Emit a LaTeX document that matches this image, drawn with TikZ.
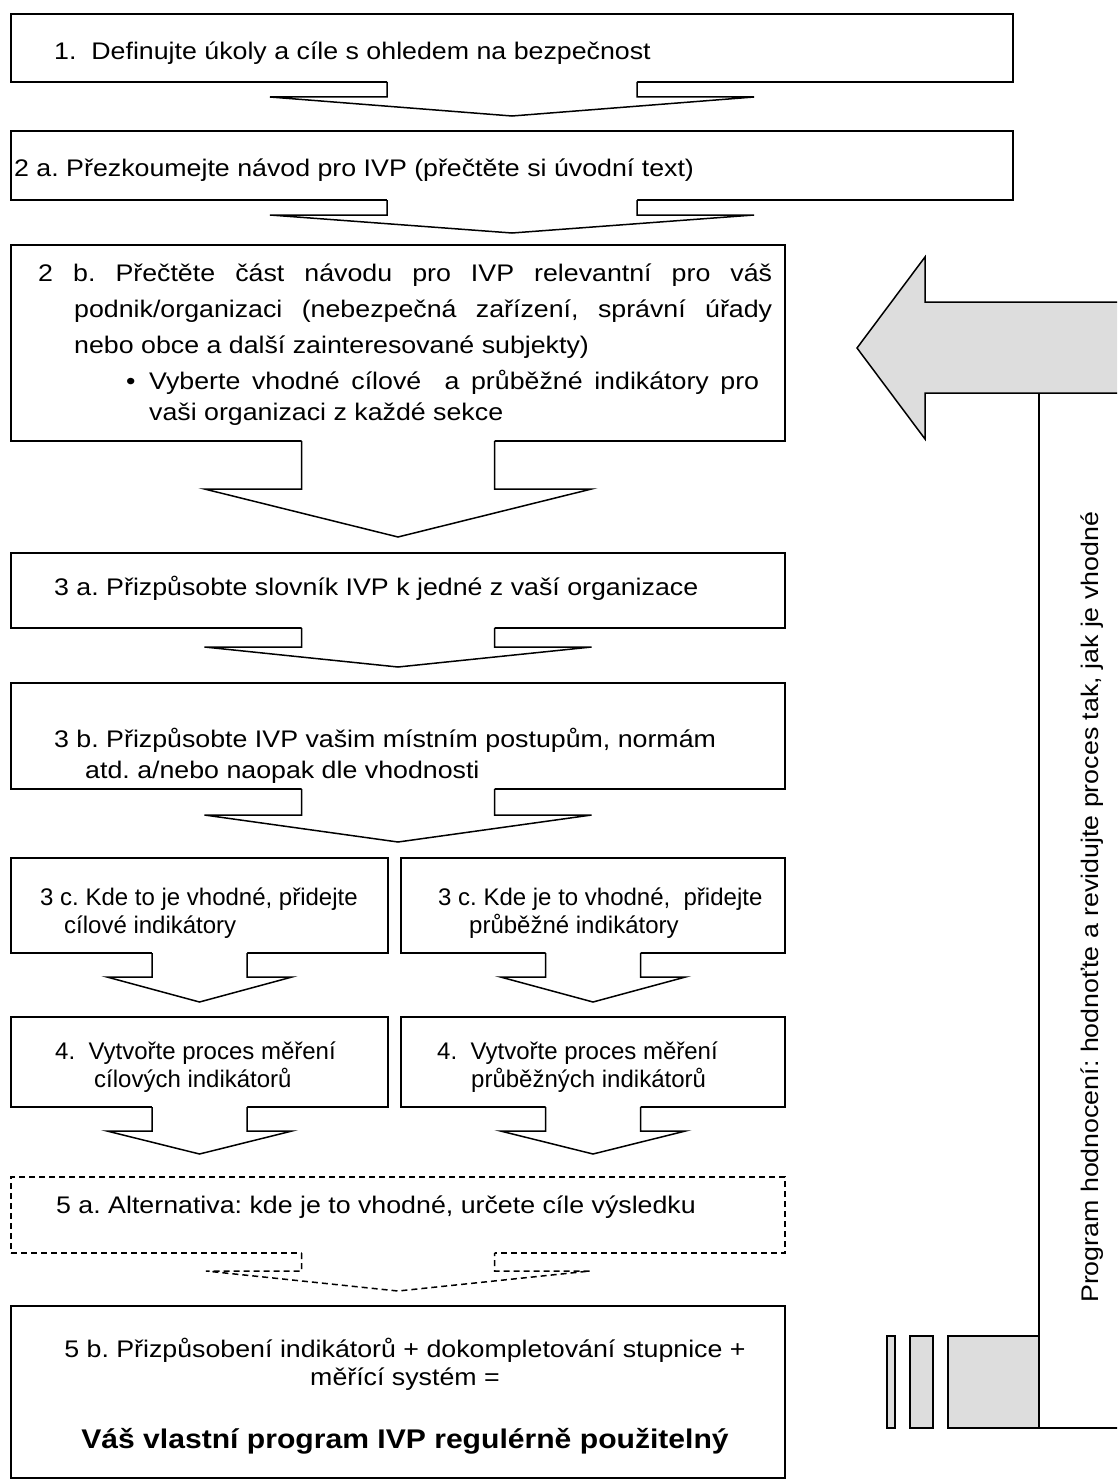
\documentclass[tikz,border=0pt]{standalone}
\usepackage{fontspec}
\setmainfont{Liberation Sans}[FakeStretch=1.115]
\newfontfamily\narrowfont{Liberation Sans}
\usetikzlibrary{positioning}
\definecolor{panelgray}{HTML}{DDDDDD}
\frenchspacing

\tikzset{
	box/.style={draw, line width=1.5pt, anchor=north west, inner sep=0pt, outer sep=0pt},
	txtline/.style={anchor=base west, inner sep=0pt, font=\fontsize{24}{28}\selectfont},
	narrowline/.style={txtline, font=\narrowfont\fontsize{24}{28}\selectfont},
	midline/.style={txtline, anchor=base},
}

% block arrow under a box: [style]{box}{shaft half}{wing half}{shaft}{head}
\newcommand{\flowarrow}[6][]{%
	\fill[white] ([xshift=-#3pt,yshift=2pt]#2.south) -- ++(0,#5+2) -- ++(#3-#4,0) -- ++(#4,#6) -- ++(#4,-#6) -- ++(#3-#4,0) -- ++(0,-#5-2) -- cycle;
	\draw[line width=1.5pt, #1] ([xshift=-#3pt]#2.south) -- ++(0,#5) -- ++(#3-#4,0) -- ++(#4,#6) -- ++(#4,-#6) -- ++(#3-#4,0) -- ++(0,-#5);
}

\begin{document}
\begin{tikzpicture}[x=1pt, y=-1pt]
	\useasboundingbox (0,0) rectangle (1117,1482);
	% boxes
	\node[box, minimum width=1002pt, minimum height=68pt] (b1) at (11,14) {};
	\node[box, minimum width=1002pt, minimum height=69pt] (b2a) at (11,131) {};
	\node[box, minimum width=774pt, minimum height=196pt] (b2b) at (11,245) {};
	\node[box, minimum width=774pt, minimum height=75pt] (b3a) at (11,553) {};
	\node[box, minimum width=774pt, minimum height=106pt] (b3b) at (11,683) {};
	\node[box, minimum width=377pt, minimum height=95pt] (b3cl) at (11,858) {};
	\node[box, minimum width=384pt, minimum height=95pt] (b3cr) at (401,858) {};
	\node[box, minimum width=377pt, minimum height=90pt] (b4l) at (11,1017) {};
	\node[box, minimum width=384pt, minimum height=90pt] (b4r) at (401,1017) {};
	\node[box, dashed, dash pattern=on 6pt off 4pt, minimum width=774pt, minimum height=76pt] (b5a) at (11,1177) {};
	\node[box, minimum width=774pt, minimum height=172pt] (b5b) at (11,1306) {};

	% arrows
	\flowarrow{b1}{125}{242}{15}{19}
	\flowarrow{b2a}{125}{242}{15}{18}
	\flowarrow{b2b}{96.5}{193.5}{48}{48}
	\flowarrow{b3a}{96.5}{193.5}{19}{20}
	\flowarrow{b3b}{96.5}{193.5}{26}{27}
	\flowarrow{b3cl}{47.5}{92.5}{24}{25}
	\flowarrow{b3cr}{47.5}{92.5}{24}{25}
	\flowarrow{b4l}{47.5}{92.5}{24}{23}
	\flowarrow{b4r}{47.5}{92.5}{24}{23}
	\flowarrow[dashed, dash pattern=on 6pt off 4pt]{b5a}{96.5}{192}{18}{20}

	% texts
	\node[txtline] (t1) at (54,60) {1.\ \ Definujte úkoly a cíle s ohledem na bezpečnost};
	\node[txtline] (t2a) at (14,177) {2 a. Přezkoumejte návod pro IVP (přečtěte si úvodní text)};
	\node[txtline] (t2b1) at (38,281) {\makebox[734pt][s]{2 b. Přečtěte část návodu pro IVP relevantní pro váš}};
	\node[txtline] (t2b2) at (74,317) {\makebox[698pt][s]{podnik/organizaci (nebezpečná zařízení, správní úřady}};
	\node[txtline] (t2b3) at (74,353) {nebo obce a další zainteresované subjekty)};
	\node[txtline] (dot) at (126,389) {•};
	\node[txtline] (t2b4) at (149,389) {\makebox[610pt][s]{Vyberte vhodné cílové\ \ a průběžné indikátory pro}};
	\node[txtline] (t2b5) at (149,420) {vaši organizaci z každé sekce};
	\node[txtline] (t3a) at (54,595) {3 a. Přizpůsobte slovník IVP k jedné z vaší organizace};
	\node[txtline] (t3b1) at (54,747) {3 b. Přizpůsobte IVP vašim místním postupům, normám};
	\node[txtline] (t3b2) at (85,778) {atd. a/nebo naopak dle vhodnosti};
	\node[narrowline] (t3cl1) at (40,905) {3 c. Kde to je vhodné, přidejte};
	\node[narrowline] (t3cl2) at (64,933) {cílové indikátory};
	\node[narrowline] (t3cr1) at (438,905) {3 c. Kde je to vhodné,\ \ přidejte};
	\node[narrowline] (t3cr2) at (469,933) {průběžné indikátory};
	\node[narrowline] (t4l1) at (55,1059) {4.\ \ Vytvořte proces měření};
	\node[narrowline] (t4l2) at (94,1087) {cílových indikátorů};
	\node[narrowline] (t4r1) at (437,1059) {4.\ \ Vytvořte proces měření};
	\node[narrowline] (t4r2) at (471,1087) {průběžných indikátorů};
	\node[txtline] (t5a) at (56,1213) {5 a. Alternativa: kde je to vhodné, určete cíle výsledku};
	\node[midline] (t5b1) at (405,1357) {5 b. Přizpůsobení indikátorů + dokompletování stupnice +};
	\node[midline] (t5b2) at (405,1385) {měřící systém =};
	\node[midline, font=\fontsize{27}{32}\selectfont\bfseries] (t5b3) at (405,1448) {Váš vlastní program IVP regulérně použitelný};

	% feedback arrow on the right
	\begin{scope}
		\clip (0,0) rectangle (1117,1482);
		\draw[line width=1.5pt, fill=panelgray] (1130,302) -- (925,302) -- (925,257) -- (857,348) -- (925,439) -- (925,393) -- (1130,393);
		\draw[line width=1.5pt] (1039,393) -- (1039,1336);
		\draw[line width=1.5pt, fill=panelgray] (948,1336) rectangle (1039,1428);
		\draw[line width=1.5pt] (1039,1428) -- (1130,1428);
		\draw[line width=1.5pt, fill=panelgray] (887,1336) rectangle (895,1428);
		\draw[line width=1.5pt, fill=panelgray] (910,1336) rectangle (933,1428);
	\end{scope}
	\node[txtline, rotate=90] (side) at (1098,1303) {Program hodnocení: hodnoťte a revidujte proces tak, jak je vhodné};
\end{tikzpicture}
\end{document}
